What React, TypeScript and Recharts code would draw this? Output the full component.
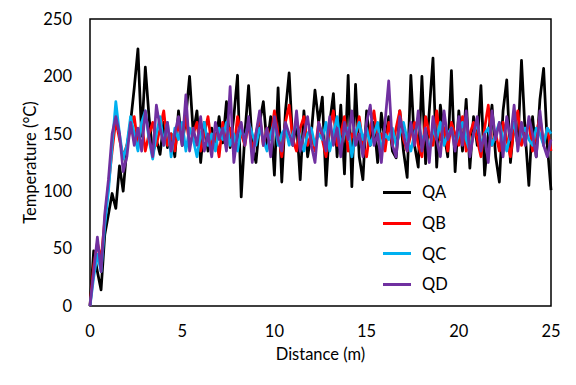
import { LineChart, Line, XAxis, YAxis, ReferenceArea } from "recharts";

// ── Data (0.2 m steps) ────────────────────────────────────────────────────────
const distance = [
  0, 0.2, 0.4, 0.6, 0.8, 1, 1.2, 1.4, 1.6, 1.8,
  2, 2.2, 2.4, 2.6, 2.8, 3, 3.2, 3.4, 3.6, 3.8,
  4, 4.2, 4.4, 4.6, 4.8, 5, 5.2, 5.4, 5.6, 5.8,
  6, 6.2, 6.4, 6.6, 6.8, 7, 7.2, 7.4, 7.6, 7.8,
  8, 8.2, 8.4, 8.6, 8.8, 9, 9.2, 9.4, 9.6, 9.8,
  10, 10.2, 10.4, 10.6, 10.8, 11, 11.2, 11.4, 11.6, 11.8,
  12, 12.2, 12.4, 12.6, 12.8, 13, 13.2, 13.4, 13.6, 13.8,
  14, 14.2, 14.4, 14.6, 14.8, 15, 15.2, 15.4, 15.6, 15.8,
  16, 16.2, 16.4, 16.6, 16.8, 17, 17.2, 17.4, 17.6, 17.8,
  18, 18.2, 18.4, 18.6, 18.8, 19, 19.2, 19.4, 19.6, 19.8,
  20, 20.2, 20.4, 20.6, 20.8, 21, 21.2, 21.4, 21.6, 21.8,
  22, 22.2, 22.4, 22.6, 22.8, 23, 23.2, 23.4, 23.6, 23.8,
  24, 24.2, 24.4, 24.6, 24.8, 25,
];

const qa = [
  0, 48, 30, 14, 62, 80, 98, 85, 122, 100,
  138, 160, 190, 224, 148, 208, 165, 133, 145, 132,
  160, 138, 150, 130, 170, 140, 165, 200, 150, 170,
  125, 160, 135, 155, 140, 165, 142, 178, 138, 165,
  201, 95, 150, 192, 140, 125, 160, 178, 140, 165,
  114, 190, 108, 170, 203, 140, 160, 110, 170, 130,
  150, 188, 160, 182, 105, 160, 185, 130, 175, 115,
  201, 104, 193, 130, 110, 170, 140, 160, 125, 168,
  142, 165, 135, 129, 170, 135, 112, 201, 140, 121,
  200, 124, 170, 216, 121, 175, 150, 130, 205, 117,
  170, 135, 180, 120, 165, 140, 192, 114, 150, 175,
  130, 108, 170, 197, 125, 160, 140, 214, 150, 105,
  165, 130, 180, 207, 140, 101,
];

const qb = [
  0, 35, 55, 40, 75, 105, 135, 162, 145, 130,
  140, 155, 165, 140, 160, 135, 150, 160, 140, 155,
  170, 140, 150, 135, 160, 145, 165, 140, 150, 160,
  135, 150, 165, 140, 150, 130, 160, 145, 155, 135,
  165, 150, 140, 160, 135, 150, 165, 140, 155, 145,
  170, 150, 130, 160, 175, 145, 135, 155, 165, 140,
  150, 135, 160, 145, 130, 155, 170, 140, 150, 165,
  135, 150, 145, 165, 140, 130, 155, 170, 145, 150,
  135, 160, 140, 155, 170, 145, 135, 150, 160, 140,
  130, 165, 150, 140, 170, 145, 155, 135, 160, 150,
  140, 165, 135, 150, 160, 145, 130, 155, 175, 140,
  150, 135, 160, 145, 130, 155, 170, 140, 150, 160,
  135, 150, 165, 140, 155, 135,
];

const qc = [
  0, 25, 45, 30, 70, 100, 140, 178, 150, 128,
  140, 165, 150, 135, 160, 170, 145, 128, 150, 165,
  140, 160, 130, 155, 145, 160, 135, 155, 145, 130,
  150, 160, 140, 150, 135, 155, 145, 160, 140, 150,
  135, 155, 145, 160, 150, 140, 155, 145, 135, 150,
  160, 140, 150, 155, 140, 150, 160, 145, 135, 150,
  155, 140, 150, 145, 160, 135, 150, 165, 140, 150,
  155, 130, 150, 160, 145, 155, 140, 150, 160, 135,
  150, 145, 155, 140, 150, 160, 145, 135, 150, 160,
  145, 150, 135, 155, 145, 160, 140, 150, 155, 140,
  150, 160, 145, 135, 150, 160, 140, 150, 155, 140,
  150, 160, 145, 135, 150, 160, 140, 150, 155, 145,
  140, 155, 150, 140, 155, 150,
];

const qd = [
  0, 30, 60, 30, 80, 110, 150, 165, 150, 117,
  130, 160, 140, 155, 135, 170, 148, 130, 175, 155,
  140, 160, 135, 150, 165, 140, 184, 135, 155, 140,
  165, 135, 150, 130, 160, 145, 155, 135, 191, 125,
  150, 160, 140, 165, 125, 150, 170, 140, 155, 130,
  165, 145, 135, 160, 150, 140, 170, 135, 150, 165,
  140, 125, 160, 150, 135, 165, 140, 155, 130, 160,
  145, 170, 140, 150, 130, 160, 175, 140, 150, 125,
  160, 196, 140, 130, 165, 150, 135, 160, 140, 170,
  135, 155, 125, 165, 145, 130, 170, 145, 155, 135,
  165, 140, 170, 130, 150, 165, 135, 150, 125, 170,
  145, 160, 130, 165, 145, 175, 135, 160, 140, 165,
  150, 130, 170, 140, 130, 145,
];

const xTicks = [0, 5, 10, 15, 20, 25];
const yTicks = [0, 50, 100, 150, 200, 250];

const SERIES = [
  { key: "QA", color: "#000000" },
  { key: "QB", color: "#FF0000" },
  { key: "QC", color: "#00B0F0" },
  { key: "QD", color: "#7030A0" },
];

const data = distance.map((d, i) => ({ d, QA: qa[i], QB: qb[i], QC: qc[i], QD: qd[i] }));

const FONT = "Lato, 'Open Sans', sans-serif";

// ── Main ──────────────────────────────────────────────────────────────────────
export default function App() {
  return (
    <div style={{ position: "absolute", left: 0, top: 0, width: 576, height: 385, background: "#fff", fontFamily: FONT }}>
      <LineChart width={576} height={385} data={data} margin={{ top: 19, right: 25, bottom: 49, left: 0 }}>
        <XAxis
          dataKey="d" type="number" domain={[0, 25]} ticks={xTicks} height={30}
          axisLine={false} tickLine={false} tickSize={0} tickMargin={19}
          tick={{ fontSize: 16.5, fill: "#000", fontFamily: FONT }}
          label={{ value: "Distance (m)", position: "bottom", offset: 12, fontSize: 16.5, fill: "#000", fontFamily: FONT }}
        />
        <YAxis
          type="number" domain={[0, 250]} ticks={yTicks} width={90}
          axisLine={false} tickLine={false} tickSize={0} tickMargin={18}
          tick={{ fontSize: 16.5, fill: "#000", fontFamily: FONT }}
          label={{ value: "Temperature (°C)", angle: -90, position: "center", dx: -15, fontSize: 16.5, fill: "#000", fontFamily: FONT }}
        />
        <ReferenceArea x1={0} x2={25} y1={0} y2={250} fill="none" stroke="#000" strokeWidth={1.5} fillOpacity={0} />
        {SERIES.map(s => (
          <Line key={s.key} dataKey={s.key} stroke={s.color} strokeWidth={2.75} strokeLinejoin="round"
            dot={false} type="linear" isAnimationActive={false} />
        ))}
      </LineChart>

      {/* legend */}
      <div style={{ position: "absolute", left: 383, top: 177 }}>
        {SERIES.map(s => (
          <div key={s.key} style={{ display: "flex", alignItems: "center", height: 30.7 }}>
            <div style={{ width: 28, height: 3, background: s.color }} />
            <span style={{ marginLeft: 11, fontSize: 16.5, color: "#000" }}>{s.key}</span>
          </div>
        ))}
      </div>
    </div>
  );
}
